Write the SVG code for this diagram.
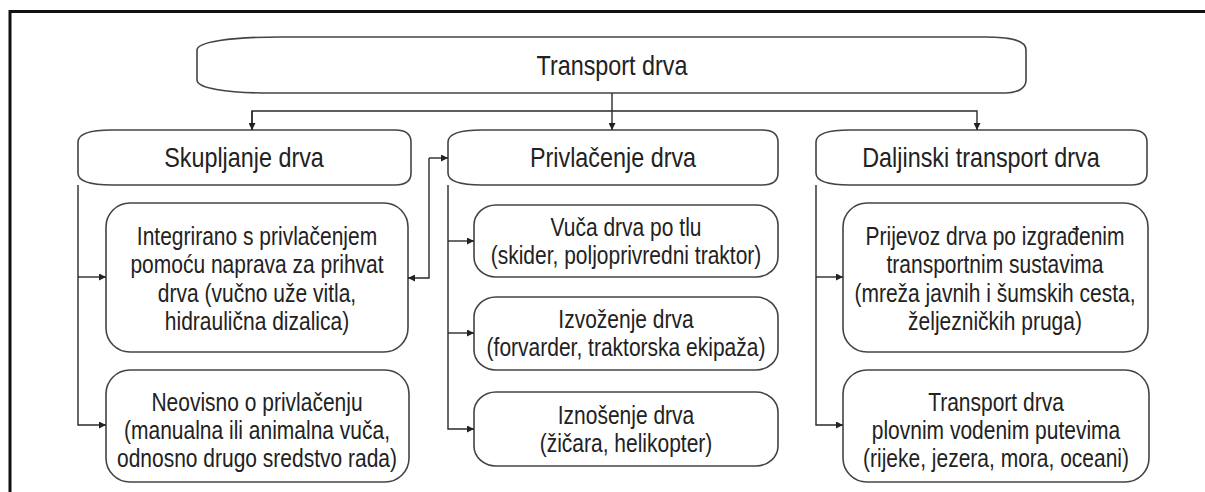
<svg xmlns="http://www.w3.org/2000/svg" width="1205" height="492" viewBox="0 0 1205 492">
<defs>
<style>
.box{fill:#fff;stroke:#444;stroke-width:1.6}
.ln{fill:none;stroke:#2a2a2a;stroke-width:1.4}
.h{font-family:"Liberation Sans",Arial,sans-serif;font-size:28.5px;fill:#222;text-anchor:middle}
.s{font-family:"Liberation Sans",Arial,sans-serif;font-size:25px;fill:#222;text-anchor:middle}
</style>
<marker id="ah" viewBox="0 0 10 10" refX="10" refY="5" markerWidth="7" markerHeight="7" markerUnits="userSpaceOnUse" orient="auto">
<path d="M0,0 L10,5 L0,10 z" fill="#222"/>
</marker>
</defs>
<rect x="0" y="0" width="1205" height="492" fill="#fff"/>
<path d="M10,505 V11.5 H1210" fill="none" stroke="#111" stroke-width="3"/>

<g id="top">
<path class="box" d="M280,37 H985 C1010,37 1026,40 1026,50 V80 C1026,88 1018,93 1005,93 H270 C225,93 197,88 197,80 V50 C197,42 230,37 280,37 Z"/>
<text class="h" transform="translate(612 0) scale(0.82 1)" x="0" y="75">Transport drva</text>
</g>

<g id="skupljanje">
<path class="box" d="M112,130 H395 C405,130 411,134 411,142 V173 C411,181 405,185 395,185 H112 C90,185 78,181 78,173 V142 C78,134 90,130 112,130 Z"/>
<text class="h" transform="translate(244 0) scale(0.82 1)" x="0" y="167">Skupljanje drva</text>
</g>
<g id="privlacenje">
<path class="box" d="M482,130 H762 C772,130 778,134 778,142 V173 C778,181 772,185 762,185 H482 C460,185 448,181 448,173 V142 C448,134 460,130 482,130 Z"/>
<text class="h" transform="translate(613 0) scale(0.82 1)" x="0" y="167">Privlačenje drva</text>
</g>
<g id="daljinski">
<path class="box" d="M850,130 H1131 C1141,130 1147,134 1147,142 V173 C1147,181 1141,185 1131,185 H850 C828,185 816,181 816,173 V142 C816,134 828,130 850,130 Z"/>
<text class="h" transform="translate(981 0) scale(0.82 1)" x="0" y="167">Daljinski transport drva</text>
</g>

<g id="integrirano">
<rect class="box" x="106" y="203" width="302" height="149" rx="24" ry="24"/>
<text class="s" transform="translate(257 0) scale(0.84 1)" x="0"><tspan x="0" y="245">Integrirano s privlačenjem</tspan><tspan x="0" y="273.5">pomoću naprava za prihvat</tspan><tspan x="0" y="302">drva (vučno uže vitla,</tspan><tspan x="0" y="330.5">hidraulična dizalica)</tspan></text>
</g>
<g id="neovisno">
<rect class="box" x="106" y="370" width="303" height="112" rx="24" ry="24"/>
<text class="s" transform="translate(257 0) scale(0.84 1)" x="0"><tspan x="0" y="411">Neovisno o privlačenju</tspan><tspan x="0" y="439">(manualna ili animalna vuča,</tspan><tspan x="0" y="467">odnosno drugo sredstvo rada)</tspan></text>
</g>
<g id="vuca">
<rect class="box" x="474" y="205" width="304" height="72" rx="22" ry="20"/>
<text class="s" transform="translate(626 0) scale(0.84 1)" x="0"><tspan x="0" y="236">Vuča drva po tlu</tspan><tspan x="0" y="264">(skider, poljoprivredni traktor)</tspan></text>
</g>
<g id="izvozenje">
<rect class="box" x="474" y="297" width="304" height="73" rx="22" ry="20"/>
<text class="s" transform="translate(626 0) scale(0.84 1)" x="0"><tspan x="0" y="328">Izvoženje drva</tspan><tspan x="0" y="356">(forvarder, traktorska ekipaža)</tspan></text>
</g>
<g id="iznosenje">
<rect class="box" x="474" y="392" width="304" height="74" rx="22" ry="20"/>
<text class="s" transform="translate(626 0) scale(0.84 1)" x="0"><tspan x="0" y="424">Iznošenje drva</tspan><tspan x="0" y="452">(žičara, helikopter)</tspan></text>
</g>
<g id="prijevoz">
<rect class="box" x="843" y="203" width="305" height="149" rx="24" ry="24"/>
<text class="s" transform="translate(995 0) scale(0.84 1)" x="0"><tspan x="0" y="245">Prijevoz drva po izgrađenim</tspan><tspan x="0" y="273.5">transportnim sustavima</tspan><tspan x="0" y="302">(mreža javnih i šumskih cesta,</tspan><tspan x="0" y="330.5">željezničkih pruga)</tspan></text>
</g>
<g id="plovni">
<rect class="box" x="843" y="370" width="306" height="112" rx="24" ry="24"/>
<text class="s" transform="translate(996 0) scale(0.84 1)" x="0"><tspan x="0" y="411">Transport drva</tspan><tspan x="0" y="439">plovnim vodenim putevima</tspan><tspan x="0" y="467">(rijeke, jezera, mora, oceani)</tspan></text>
</g>

<g id="connectors">
<path class="ln" d="M612,93 V130" marker-end="url(#ah)"/>
<path class="ln" d="M252,130 V111 H977 V130" marker-end="url(#ah)"/>
<path class="ln" d="M252,111 V130" marker-end="url(#ah)"/>
<path class="ln" d="M78,185 V425 H106" marker-end="url(#ah)"/>
<path class="ln" d="M78,277 H106" marker-end="url(#ah)"/>
<path class="ln" d="M429,158 H448" marker-end="url(#ah)"/>
<path class="ln" d="M429,158 V278 H408" marker-end="url(#ah)"/>
<path class="ln" d="M448,185 V429 H474" marker-end="url(#ah)"/>
<path class="ln" d="M448,241 H474" marker-end="url(#ah)"/>
<path class="ln" d="M448,333 H474" marker-end="url(#ah)"/>
<path class="ln" d="M816,185 V425 H843" marker-end="url(#ah)"/>
<path class="ln" d="M816,277 H843" marker-end="url(#ah)"/>
</g>
</svg>
